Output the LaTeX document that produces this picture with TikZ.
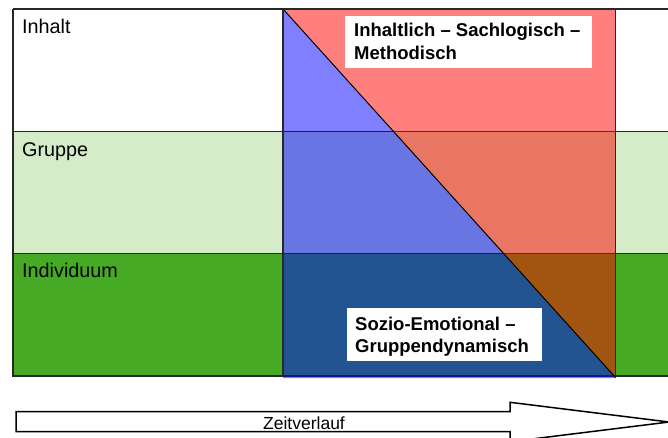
\documentclass[tikz,border=0pt]{standalone}
\usepackage{fontspec}
\setmainfont{Liberation Sans}
\definecolor{lightgrn}{RGB}{212,236,200}
\definecolor{grn}{RGB}{70,170,36}
\definecolor{ovblue}{RGB}{0,0,255}
\definecolor{ovred}{RGB}{255,0,0}
\definecolor{gridline}{RGB}{40,40,40}
\tikzset{
  gridln/.style={draw=gridline, line width=1.4pt},
  rowlabel/.style={anchor=base west, inner sep=0pt, font=\fontsize{19.8}{23}\selectfont},
  boldlabel/.style={anchor=base west, inner sep=0pt, font=\fontsize{18.5}{22}\selectfont\bfseries},
  whitebox/.style={fill=white, draw=none, anchor=north west, inner sep=0pt},
  arrowshape/.style={draw=black, line width=1.5pt, fill=white, line join=miter}
}
\begin{document}
\begin{tikzpicture}[x=1pt,y=-1pt]
\useasboundingbox (0,0) rectangle (668,437);
% bands
\fill[lightgrn] (13,131.5) rectangle (670,253.5);
\fill[grn] (13,253.5) rectangle (670,376);
% horizontal grid lines (under the overlay)
\draw[gridln] (13,131.5) -- (670,131.5);
\draw[gridln] (13,253.5) -- (670,253.5);
\draw[gridln] (13,376) -- (670,376);
% translucent overlay triangles
\fill[ovblue, opacity=0.5] (283,9) -- (283,378) -- (615.5,378) -- cycle;
\fill[ovred, opacity=0.5] (283,9) -- (615.5,9) -- (615.5,378) -- cycle;
\draw[black, line width=1pt] (283,9) -- (615.5,377.5);
% vertical lines and top line
\draw[gridln] (13,9) -- (670,9);
\draw[gridln] (13,9) -- (13,376.7);
\draw[gridln] (283,9) -- (283,376);
\draw[gridln] (615.5,9) -- (615.5,378);
% row labels
\node[rowlabel] (inhalt) at (22,33.3) {Inhalt};
\node[rowlabel] (gruppe) at (22,156) {Gruppe};
\node[rowlabel] (indiv) at (22,277.3) {Individuum};
% label boxes
\node[whitebox, minimum width=247pt, minimum height=52pt] (boxA) at (345,16) {};
\node[boldlabel] (a1) at (354,36.7) {Inhaltlich – Sachlogisch –};
\node[boldlabel] (a2) at (354,59.3) {Methodisch};
\node[whitebox, minimum width=195pt, minimum height=53pt] (boxB) at (347,308) {};
\node[boldlabel] (b1) at (355,330.7) {Sozio-Emotional –};
\node[boldlabel] (b2) at (355,352.7) {Gruppendynamisch};
% time arrow
\draw[arrowshape] (16,411.7) -- (510,411.7) -- (510,402.3) -- (669,422) -- (510,441.7) -- (510,431.7) -- (16,431.7) -- cycle;
\node[anchor=base, inner sep=0pt, font=\fontsize{17.5}{20}\selectfont] (zeit) at (304,429) {Zeitverlauf};
\end{tikzpicture}
\end{document}
